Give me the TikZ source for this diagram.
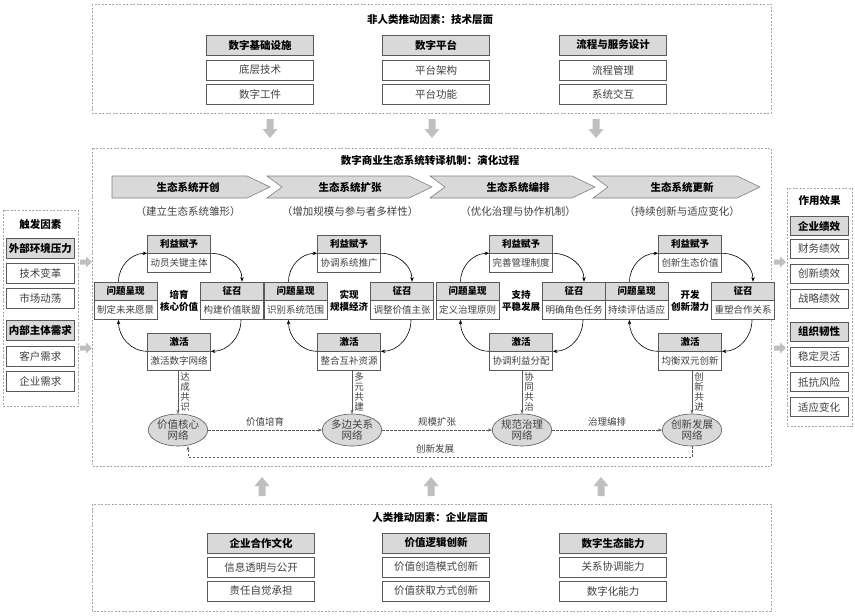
\documentclass[tikz,border=0pt]{standalone}
\usepackage{fontspec}
\setmainfont{Noto Sans CJK SC}
\usetikzlibrary{calc,arrows.meta,shapes.geometric}
\definecolor{hdrgray}{HTML}{D9D9D9}
\definecolor{edgegray}{HTML}{595959}
\definecolor{txtgray}{HTML}{404040}
\definecolor{blkgray}{HTML}{BFBFBF}
\definecolor{dashgray}{HTML}{A6A6A6}
\definecolor{chevedge}{HTML}{7F7F7F}

\newcommand\blkdown[2]{\fill[blkgray] (#1-3.5,#2) -- (#1+3.5,#2) -- (#1+3.5,#2+10) -- (#1+7.5,#2+10) -- (#1,#2+19) -- (#1-7.5,#2+10) -- (#1-3.5,#2+10) -- cycle;}
\newcommand\blkup[2]{\fill[blkgray] (#1-3.5,#2) -- (#1+3.5,#2) -- (#1+3.5,#2-10) -- (#1+7.5,#2-10) -- (#1,#2-19) -- (#1-7.5,#2-10) -- (#1-3.5,#2-10) -- cycle;}
\newcommand\blkright[2]{\fill[blkgray] (#1,#2-2.5) -- (#1+6,#2-2.5) -- (#1+6,#2-5.5) -- (#1+12,#2) -- (#1+6,#2+5.5) -- (#1+6,#2+2.5) -- (#1,#2+2.5) -- cycle;}

% #1 id, #2 center x, #3 top, #4 left, #5 right, #6 bottom, #7 #8 centre lines
\newcommand\mkcycle[8]{%
  \node[chdr] (#1th) at (#2,244) {利益赋予};
  \node[cbdy,anchor=north] (#1tb) at (#1th.south) {#3};
  \node[chdr] (#1lh) at (#2-53.5,291) {问题呈现};
  \node[cbdy,anchor=north] (#1lb) at (#1lh.south) {#4};
  \node[chdr] (#1rh) at (#2+53,291) {征召};
  \node[cbdy,anchor=north] (#1rb) at (#1rh.south) {#5};
  \node[chdr] (#1bh) at (#2,342) {激活};
  \node[cbdy,anchor=north] (#1bb) at (#1bh.south) {#6};
  \node[ctxt] (#1c) at (#2,301) {#7\\#8};
  \draw[cyc] (#1th.south east) to[out=0,in=90] ($(#1rh.north)+(10,0)$);
  \draw[cyc] ($(#1rb.south)+(9,0)$) to[out=-90,in=0] (#1bh.south east);
  \draw[cyc] (#1bh.south west) to[out=180,in=-90] ($(#1lb.south)+(-7,0)$);
  \draw[cyc] ($(#1lh.north)+(-7,0)$) to[out=90,in=180] (#1th.south west);
}

\begin{document}
\begin{tikzpicture}[x=1pt,y=-1pt,
  panel/.style={draw=dashgray, line width=0.6pt, dash pattern=on 2pt off 1.5pt},
  ttl/.style={font=\fontsize{10.5}{12}\selectfont\bfseries, inner sep=0pt},
  phdr/.style={draw=edgegray, fill=hdrgray, line width=0.7pt, minimum height=20pt, inner sep=0pt, font=\fontsize{10.5}{12}\selectfont\bfseries},
  pbdy/.style={draw=edgegray, fill=white, line width=0.6pt, minimum height=20pt, inner sep=0pt, font=\fontsize{10.5}{12}\selectfont, text=txtgray},
  chdr/.style={draw=edgegray, fill=hdrgray, line width=0.6pt, minimum width=63pt, minimum height=18pt, inner sep=0pt, font=\fontsize{9.5}{11}\selectfont\bfseries},
  cbdy/.style={draw=edgegray, fill=white, line width=0.6pt, minimum width=63pt, minimum height=19pt, inner sep=0pt, font=\fontsize{9.5}{11}\selectfont, text=txtgray},
  ctxt/.style={align=center, inner sep=0pt, font=\fontsize{9.5}{12}\selectfont\bfseries},
  cyc/.style={line width=0.6pt, -{Stealth[length=4.5pt,width=3.5pt]}},
  chev/.style={draw=chevedge, fill=hdrgray, line width=0.6pt},
  chevtxt/.style={inner sep=0pt, font=\fontsize{10.5}{12}\selectfont\bfseries},
  subt/.style={inner sep=0pt, font=\fontsize{10.5}{12}\selectfont, text=txtgray},
  net/.style={ellipse, draw=edgegray, fill=hdrgray, line width=0.6pt, minimum width=58pt, minimum height=32pt, inner sep=0pt, align=center, font=\fontsize{10.5}{11}\selectfont, text=txtgray},
  lbl/.style={inner sep=0pt, font=\fontsize{9.5}{11}\selectfont, text=txtgray},
  vlbl/.style={inner sep=0pt, align=center, font=\fontsize{9.5}{10}\selectfont, text=txtgray},
  vflow/.style={line width=0.6pt, draw=edgegray, -{Stealth[length=4pt,width=3pt]}},
  dflow/.style={line width=0.6pt, draw=edgegray, dash pattern=on 2.5pt off 1.5pt, -{Stealth[length=4pt,width=3pt]}}
]
\useasboundingbox (0,0) rectangle (855,616);
\fill[white] (0,0) rectangle (855,616);

% ---------- top panel ----------
\draw[panel] (92,4) rectangle (771,113);
\node[ttl] (toptitle) at (430,20) {非人类推动因素：技术层面};
\node[phdr, minimum width=107pt] (t1) at (260,45) {数字基础设施};
\node[pbdy, minimum width=107pt] (t1a) at (260,70) {底层技术};
\node[pbdy, minimum width=107pt] (t1b) at (260,94) {数字工件};
\node[phdr, minimum width=107pt] (t2) at (436,45) {数字平台};
\node[pbdy, minimum width=107pt] (t2a) at (436,70) {平台架构};
\node[pbdy, minimum width=107pt] (t2b) at (436,94) {平台功能};
\node[phdr, minimum width=107pt] (t3) at (613,45) {流程与服务设计};
\node[pbdy, minimum width=107pt] (t3a) at (613,70) {流程管理};
\node[pbdy, minimum width=107pt] (t3b) at (613,94) {系统交互};
\blkdown{270}{119}
\blkdown{432}{119}
\blkdown{596}{119}

% ---------- middle panel ----------
\draw[panel] (92,148) rectangle (771,466);
\node[ttl] (midtitle) at (430,160) {数字商业生态系统转译机制：演化过程};

\draw[chev] (112,176) -- (247,176) -- (270,187) -- (247,198) -- (112,198) -- cycle;
\draw[chev] (267,176) -- (409,176) -- (432,187) -- (409,198) -- (267,198) -- (282,187) -- cycle;
\draw[chev] (430,176) -- (572,176) -- (595,187) -- (572,198) -- (430,198) -- (445,187) -- cycle;
\draw[chev] (593,176) -- (737,176) -- (760,187) -- (737,198) -- (593,198) -- (608,187) -- cycle;
\node[chevtxt] (ch1) at (188,187) {生态系统开创};
\node[chevtxt] (ch2) at (350,187) {生态系统扩张};
\node[chevtxt] (ch3) at (518,187) {生态系统编排};
\node[chevtxt] (ch4) at (682,187) {生态系统更新};
\node[subt] (sb1) at (188,212) {（建立生态系统雏形）};
\node[subt] (sb2) at (350,212) {（增加规模与参与者多样性）};
\node[subt] (sb3) at (518,212) {（优化治理与协作机制）};
\node[subt] (sb4) at (682,212) {（持续创新与适应变化）};

\mkcycle{ca}{179}{动员关键主体}{制定未来愿景}{构建价值联盟}{激活数字网络}{培育}{核心价值}
\mkcycle{cb}{349}{协调系统推广}{识别系统范围}{调整价值主张}{整合互补资源}{实现}{规模经济}
\mkcycle{cc}{521}{完善管理制度}{定义治理原则}{明确角色任务}{协调利益分配}{支持}{平稳发展}
\mkcycle{cd}{690}{创新生态价值}{持续评估适应}{重塑合作关系}{均衡双元创新}{开发}{创新潜力}

\node[net] (e1) at (178,430) {价值核心\\网络};
\node[net] (e2) at (352,430) {多边关系\\网络};
\node[net] (e3) at (522,430) {规范治理\\网络};
\node[net] (e4) at (692,430) {创新发展\\网络};

\draw[vflow] (e1 |- cabb.south) -- (e1.north) node[midway, right=2pt, vlbl] {达\\成\\共\\识};
\draw[vflow] (e2 |- cbbb.south) -- (e2.north) node[midway, right=2pt, vlbl] {多\\元\\共\\建};
\draw[vflow] (e3 |- ccbb.south) -- (e3.north) node[midway, right=2pt, vlbl] {协\\同\\共\\治};
\draw[vflow] (e4 |- cdbb.south) -- (e4.north) node[midway, right=2pt, vlbl] {创\\新\\共\\进};

\draw[dflow] (e1) -- (e2) node[midway, above=3pt, lbl] {价值培育};
\draw[dflow] (e2) -- (e3) node[midway, above=3pt, lbl] {规模扩张};
\draw[dflow] (e3) -- (e4) node[midway, above=3pt, lbl] {治理编排};
\draw[dflow] (e4.south) -- ++(0,11) -| ($(e1.south)+(10,0)$);
\node[lbl] (fbl) at ($(e1)!0.5!(e4)+(0,19)$) {创新发展};

% ---------- bottom panel ----------
\blkup{262}{496}
\blkup{431}{496}
\blkup{601}{496}
\draw[panel] (92,504) rectangle (771,611);
\node[ttl] (bottitle) at (430,518) {人类推动因素：企业层面};
\node[phdr, minimum width=107pt] (b1) at (261,543) {企业合作文化};
\node[pbdy, minimum width=107pt] (b1a) at (261,567) {信息透明与公开};
\node[pbdy, minimum width=107pt] (b1b) at (261,591) {责任自觉承担};
\node[phdr, minimum width=107pt] (b2) at (436,543) {价值逻辑创新};
\node[pbdy, minimum width=107pt] (b2a) at (436,567) {价值创造模式创新};
\node[pbdy, minimum width=107pt] (b2b) at (436,591) {价值获取方式创新};
\node[phdr, minimum width=107pt] (b3) at (613,543) {数字生态能力};
\node[pbdy, minimum width=107pt] (b3a) at (613,567) {关系协调能力};
\node[pbdy, minimum width=107pt] (b3b) at (613,591) {数字化能力};

% ---------- left panel ----------
\draw[panel] (3,210) rectangle (78,406);
\node[ttl] (ltitle) at (40.5,224) {触发因素};
\node[phdr, minimum width=68pt] (l1) at (40.5,248) {外部环境压力};
\node[pbdy, minimum width=68pt] (l1a) at (40.5,273) {技术变革};
\node[pbdy, minimum width=68pt] (l1b) at (40.5,298) {市场动荡};
\node[phdr, minimum width=68pt] (l2) at (40.5,330) {内部主体需求};
\node[pbdy, minimum width=68pt] (l2a) at (40.5,356) {客户需求};
\node[pbdy, minimum width=68pt] (l2b) at (40.5,381) {企业需求};
\blkright{80}{262}
\blkright{80}{348}

% ---------- right panel ----------
\draw[panel] (787,188) rectangle (852,426);
\node[ttl] (rtitle) at (819.5,201) {作用效果};
\node[phdr, minimum width=58pt, minimum height=19pt] (r1) at (819,226) {企业绩效};
\node[pbdy, minimum width=58pt, minimum height=19pt] (r1a) at (819,249) {财务绩效};
\node[pbdy, minimum width=58pt, minimum height=19pt] (r1b) at (819,274) {创新绩效};
\node[pbdy, minimum width=58pt, minimum height=19pt] (r1c) at (819,299) {战略绩效};
\node[phdr, minimum width=58pt, minimum height=19pt] (r2) at (819,332) {组织韧性};
\node[pbdy, minimum width=58pt, minimum height=19pt] (r2a) at (819,357) {稳定灵活};
\node[pbdy, minimum width=58pt, minimum height=19pt] (r2b) at (819,382) {抵抗风险};
\node[pbdy, minimum width=58pt, minimum height=19pt] (r2c) at (819,407) {适应变化};
\blkright{774}{262}
\blkright{774}{348}
\end{tikzpicture}
\end{document}
